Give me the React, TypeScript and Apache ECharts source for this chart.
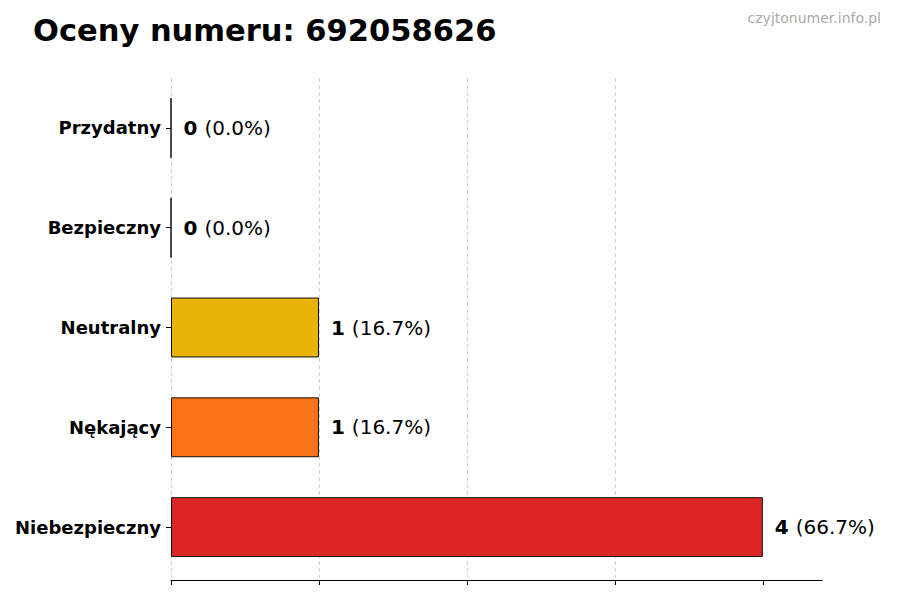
import React, { useEffect, useRef } from "react";
import * as echarts from "echarts";

const categories = ["Niebezpieczny", "Nękający", "Neutralny", "Bezpieczny", "Przydatny"];
const counts = [4, 1, 1, 0, 0];
const barColors = ["#DC2626", "#F97316", "#EAB308", "#22C55E", "#16A34A"];
const xTicks = [0, 1, 2, 3, 4];

const FONT = "DejaVu Sans";

export default function App() {
    const containerRef = useRef<HTMLDivElement | null>(null);

    useEffect(() => {
        document.body.style.margin = "0";
        if (!containerRef.current) return;
        const inst = echarts.init(containerRef.current, undefined, { renderer: "svg" });
        const total = counts.reduce((a, b) => a + b, 0);

        const option: echarts.EChartsOption = {
            animation: false,
            backgroundColor: "#fff",
            textStyle: { fontFamily: FONT },
            title: [
                {
                    text: "Oceny numeru: 692058626",
                    left: 28,
                    top: 10,
                    textStyle: { fontFamily: FONT, fontSize: 30.5, fontWeight: "bold", color: "#000" },
                },
                {
                    text: "czyjtonumer.info.pl",
                    right: 14,
                    top: 6,
                    textStyle: { fontFamily: FONT, fontSize: 14, fontWeight: "normal", color: "#aaaaaa" },
                },
            ],
            grid: { left: 171, right: 78, top: 78, bottom: 23, containLabel: false },
            xAxis: {
                type: "value",
                min: 0,
                max: 4.4,
                interval: 1,
                offset: 3,
                axisLine: { show: true, lineStyle: { color: "#000", width: 1 } },
                axisTick: {
                    show: true,
                    customValues: xTicks,
                    length: 5,
                    inside: false,
                    lineStyle: { color: "#000" },
                },
                axisLabel: { show: false },
                splitLine: {
                    show: true,
                    showMaxLine: false,
                    lineStyle: { color: "#d0d0d0", type: [4, 3], width: 1 },
                },
            },
            yAxis: {
                type: "category",
                data: categories,
                axisLine: { show: true, lineStyle: { color: "rgba(0,0,0,0)" } },
                axisTick: { show: true, alignWithLabel: true, length: 5, lineStyle: { color: "#000" } },
                axisLabel: {
                    fontFamily: FONT,
                    fontSize: 18,
                    fontWeight: "bold",
                    color: "#000",
                    margin: 10,
                },
                splitLine: { show: false },
            },
            series: [
                {
                    type: "bar",
                    barWidth: "60%",
                    data: counts.map((v, i) => ({
                        value: v,
                        itemStyle: { color: barColors[i], borderColor: "#111", borderWidth: 1 },
                    })),
                    label: {
                        show: true,
                        position: "right",
                        distance: 12,
                        formatter: (p: any) => {
                            const pct = total ? ((p.value / total) * 100).toFixed(1) : "0.0";
                            return `{b|${p.value}}{n|(${pct}%)}`;
                        },
                        rich: {
                            b: { fontFamily: FONT, fontSize: 20, fontWeight: "bold", color: "#000" },
                            n: { fontFamily: FONT, fontSize: 20, color: "#000", padding: [0, 0, 0, 7] },
                        },
                    },
                },
            ],
        };
        inst.setOption(option);
        return () => inst.dispose();
    }, []);

    return <div ref={containerRef} style={{ width: 900, height: 600 }} />;
}
